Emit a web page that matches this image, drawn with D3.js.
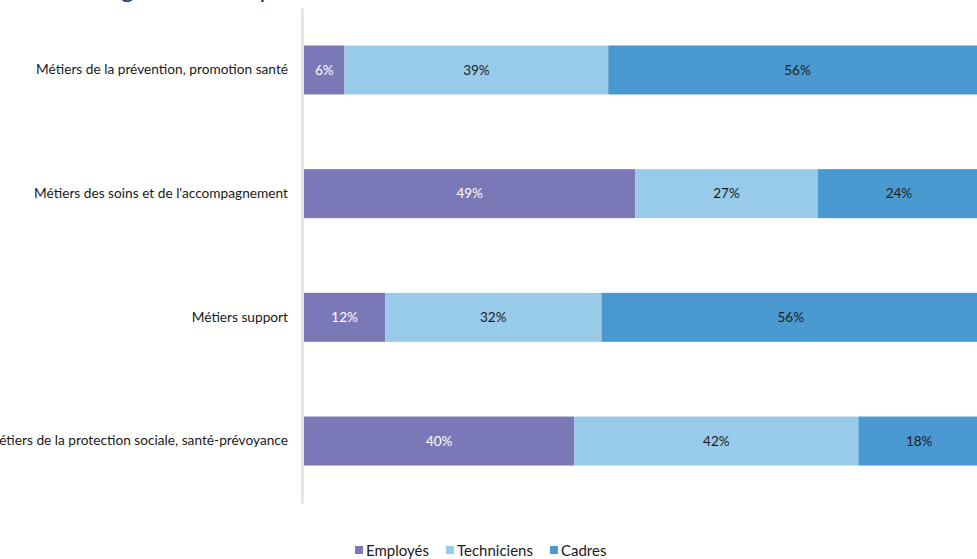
<!DOCTYPE html>
<html lang="fr">
<head>
<meta charset="utf-8">
<script src="https://cdn.jsdelivr.net/npm/d3@7"></script>
<style>
  html, body { margin: 0; padding: 0; background: #fff; }
  svg { display: block; font-family: Lato, "Open Sans", sans-serif; }
</style>
</head>
<body>
<svg id="chart" width="977" height="559"></svg>
<script>
// Familles de métiers (axe vertical, de haut en bas)
const categories = [
  "Métiers de la prévention, promotion santé",
  "Métiers des soins et de l'accompagnement",
  "Métiers support",
  "Métiers de la protection sociale, santé-prévoyance"
];

// Catégories socio-professionnelles
const seriesNames = ["Employés", "Techniciens", "Cadres"];
const seriesColors = ["#7b78b8", "#98cbea", "#4a9ad1"];
const labelColors = ["#ffffff", "#1a1a1a", "#1a1a1a"];

// Parts (%) par famille, dans l'ordre des catégories
const employes    = [6, 49, 12, 40];
const techniciens = [39, 27, 32, 42];
const cadres      = [56, 24, 56, 18];

const titleText = "Les catégories socio-professionnelles selon le domaine de métiers";

const rows = categories.map((c, i) => ({
  category: c,
  "Employés": employes[i],
  "Techniciens": techniciens[i],
  "Cadres": cadres[i]
}));

const svg = d3.select("#chart");

// Titre (en grande partie au-dessus du cadre visible)
svg.append("text")
  .attr("x", 32)
  .attr("y", -2)
  .attr("fill", "#203a84")
  .attr("font-size", 25)
  .text(titleText);

const x = d3.scaleLinear().domain([0, 100]).range([304, 980]);
const y = d3.scaleBand().domain(categories).range([8, 503])
  .paddingInner(0.604).paddingOuter(0.303);

const color = d3.scaleOrdinal().domain(seriesNames).range(seriesColors);
const textColor = d3.scaleOrdinal().domain(seriesNames).range(labelColors);

const stacked = d3.stack().keys(seriesNames)(rows);

const layers = svg.append("g").selectAll("g")
  .data(stacked)
  .join("g")
  .attr("fill", d => color(d.key));

layers.selectAll("rect")
  .data(d => d.map(v => Object.assign(v, { key: d.key })))
  .join("rect")
  .attr("x", d => x(d[0]))
  .attr("y", d => y(d.data.category))
  .attr("width", d => x(d[1]) - x(d[0]))
  .attr("height", y.bandwidth());

layers.selectAll("text")
  .data(d => d)
  .join("text")
  .attr("x", d => (x(d[0]) + x(d[1])) / 2)
  .attr("y", d => y(d.data.category) + y.bandwidth() / 2)
  .attr("dy", "0.35em")
  .attr("text-anchor", "middle")
  .attr("font-size", 13.5)
  .attr("fill", d => textColor(d.key))
  .text(d => d.data[d.key] + "%");

// Axe des catégories
const axis = svg.append("g")
  .attr("transform", "translate(302,0)")
  .call(d3.axisLeft(y).tickSize(0).tickPadding(14).tickSizeOuter(0));
axis.select(".domain").attr("stroke", "#d9d9d9").attr("stroke-width", 2);
axis.selectAll("text")
  .attr("font-family", "Lato, 'Open Sans', sans-serif")
  .attr("font-size", 13.7)
  .attr("fill", "#1a1a1a");

// Légende
const legend = svg.append("g").attr("transform", "translate(355,0)");
let lx = 0;
seriesNames.forEach(name => {
  const item = legend.append("g").attr("transform", `translate(${lx},0)`);
  item.append("rect")
    .attr("x", 0).attr("y", 546)
    .attr("width", 8).attr("height", 8)
    .attr("fill", color(name));
  const t = item.append("text")
    .attr("x", 11).attr("y", 556)
    .attr("font-size", 15)
    .attr("fill", "#1a1a1a")
    .text(name);
  lx += 11 + t.node().getComputedTextLength() + 17;
});
</script>
</body>
</html>
